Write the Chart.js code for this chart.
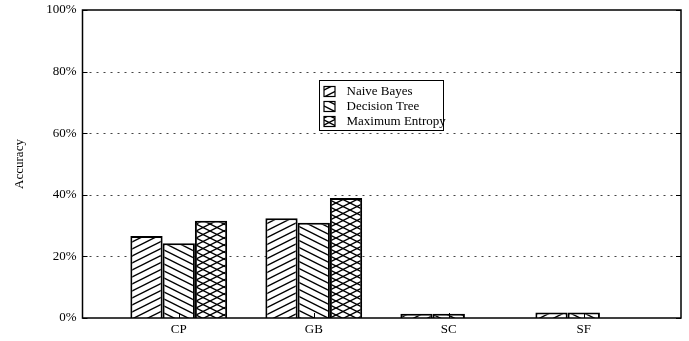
<!DOCTYPE html>
<html>
<head>
<meta charset="utf-8">
<script src="https://cdn.jsdelivr.net/npm/chart.js@4"></script>
<style>
  html, body { margin: 0; padding: 0; background: #fff; }
  #wrap { width: 689px; height: 341px; position: relative; }
</style>
</head>
<body>
<div id="wrap"><canvas id="c" width="689" height="341"></canvas></div>
<script>
// ---- data ----
const categories = ['CP', 'GB', 'SC', 'SF'];
const seriesNames = ['Naive Bayes', 'Decision Tree', 'Maximum Entropy'];
const naiveBayes = [26.6, 32.4, 1.4, 1.8];
const decisionTree = [24.3, 30.9, 1.4, 1.8];
const maximumEntropy = [31.6, 39.0, 0, 0];
const yTicks = [0, 20, 40, 60, 80, 100];

// ---- patterns ----
function makePattern(kind) {
  const w = 14, h = 7;
  const cv = document.createElement('canvas');
  cv.width = w; cv.height = h;
  const g = cv.getContext('2d');
  g.fillStyle = '#fff';
  g.fillRect(0, 0, w, h);
  g.strokeStyle = '#000';
  g.lineWidth = 1.4;
  const drawDir = (up) => {
    for (let k = -1; k <= 1; k++) {
      g.beginPath();
      if (up) { g.moveTo(-2, h + 1 + k * h); g.lineTo(w + 2, -1 + k * h); }
      else { g.moveTo(-2, -1 + k * h); g.lineTo(w + 2, h + 1 + k * h); }
      g.stroke();
    }
  };
  if (kind === 'up' || kind === 'cross') drawDir(true);
  if (kind === 'down' || kind === 'cross') drawDir(false);
  return g.createPattern(cv, 'repeat');
}
const ctxMain = document.getElementById('c').getContext('2d');
const patterns = [makePattern('up'), makePattern('down'), makePattern('cross')];
const seriesValues = [naiveBayes, decisionTree, maximumEntropy];

const datasets = seriesNames.map((name, s) => ({
  label: name,
  data: seriesValues[s].map((v, i) => ({ x: i, y: v })),
  backgroundColor: patterns[s],
  borderColor: '#000',
  borderWidth: 2,
  borderSkipped: 'bottom',
  categoryPercentage: 0.717,
  barPercentage: 1.0
}));

const FONT = 'Liberation Serif, Times New Roman, serif';

const framePlugin = {
  id: 'frame',
  beforeDatasetsDraw(chart) {
    const { ctx, chartArea: a, scales } = chart;
    const ys = scales.y;
    ctx.save();
    ctx.strokeStyle = '#444';
    ctx.lineWidth = 1;
    ctx.setLineDash([2, 5]);
    yTicks.forEach(t => {
      if (t === 0 || t === 100) return;
      const py = Math.round(ys.getPixelForValue(t)) + 0.5;
      ctx.beginPath();
      ctx.moveTo(a.left, py);
      ctx.lineTo(a.right, py);
      ctx.stroke();
    });
    ctx.restore();
  },
  afterDatasetsDraw(chart) {
    const { ctx, chartArea: a, scales } = chart;
    ctx.save();
    ctx.strokeStyle = '#000';
    ctx.lineWidth = 1;
    ctx.setLineDash([]);
    // inward ticks
    yTicks.forEach(t => {
      const py = Math.round(scales.y.getPixelForValue(t)) + 0.5;
      ctx.beginPath(); ctx.moveTo(a.left, py); ctx.lineTo(a.left + 5, py); ctx.stroke();
      ctx.beginPath(); ctx.moveTo(a.right, py); ctx.lineTo(a.right - 5, py); ctx.stroke();
    });
    categories.forEach((c, i) => {
      const px = Math.round(scales.x.getPixelForValue(i)) + 0.5;
      ctx.beginPath(); ctx.moveTo(px, a.bottom); ctx.lineTo(px, a.bottom - 5); ctx.stroke();
    });
    // frame
    ctx.lineWidth = 1.5;
    ctx.strokeRect(a.left, a.top, a.right - a.left, a.bottom - a.top);
    // legend
    const lx = 319, ly = 80, lw = 124, lh = 50;
    ctx.fillStyle = '#fff';
    ctx.fillRect(lx, ly, lw, lh);
    ctx.lineWidth = 1;
    ctx.strokeRect(lx + 0.5, ly + 0.5, lw, lh);
    ctx.font = '13px ' + FONT;
    ctx.textBaseline = 'middle';
    ctx.textAlign = 'left';
    chart.data.datasets.forEach((ds, i) => {
      const cy = 91.5 + i * 15;
      ctx.fillStyle = ds.backgroundColor;
      ctx.fillRect(324, cy - 5, 11, 10);
      ctx.strokeStyle = '#000';
      ctx.lineWidth = 1.2;
      ctx.strokeRect(324, cy - 5, 11, 10);
      ctx.fillStyle = '#000';
      ctx.fillText(ds.label, 346.5, cy + 0.5);
    });
    ctx.restore();
  }
};

new Chart(ctxMain, {
  type: 'bar',
  data: { datasets },
  options: {
    responsive: false,
    animation: false,
    devicePixelRatio: 1,
    layout: { padding: { left: 0, right: 8, top: 10, bottom: 0 } },
    plugins: { legend: { display: false }, tooltip: { enabled: false } },
    scales: {
      x: {
        type: 'linear',
        min: -0.713,
        max: 3.72,
        offset: false,
        grid: { display: false, drawTicks: false },
        border: { display: false },
        afterBuildTicks: (scale) => { scale.ticks = categories.map((_, i) => ({ value: i })); },
        afterFit: (scale) => { scale.height = 23; scale.paddingLeft = 0; scale.paddingRight = 0; },
        ticks: {
          autoSkip: false,
          maxRotation: 0,
          padding: 4,
          color: '#000',
          font: { family: FONT, size: 13 },
          callback: (v) => categories[v] !== undefined ? categories[v] : ''
        }
      },
      y: {
        min: 0,
        max: 100,
        grid: { display: false, drawTicks: false },
        border: { display: false },
        afterBuildTicks: (scale) => { scale.ticks = yTicks.map(v => ({ value: v })); },
        afterFit: (scale) => { scale.width = 82.5; scale.paddingTop = 0; scale.paddingBottom = 0; },
        ticks: {
          padding: 6,
          color: '#000',
          font: { family: FONT, size: 13 },
          callback: (v) => v + '%'
        },
        title: {
          display: true,
          text: 'Accuracy',
          color: '#000',
          font: { family: FONT, size: 13 },
          padding: { top: 12, bottom: 0 }
        }
      }
    }
  },
  plugins: [framePlugin]
});
</script>
</body>
</html>
